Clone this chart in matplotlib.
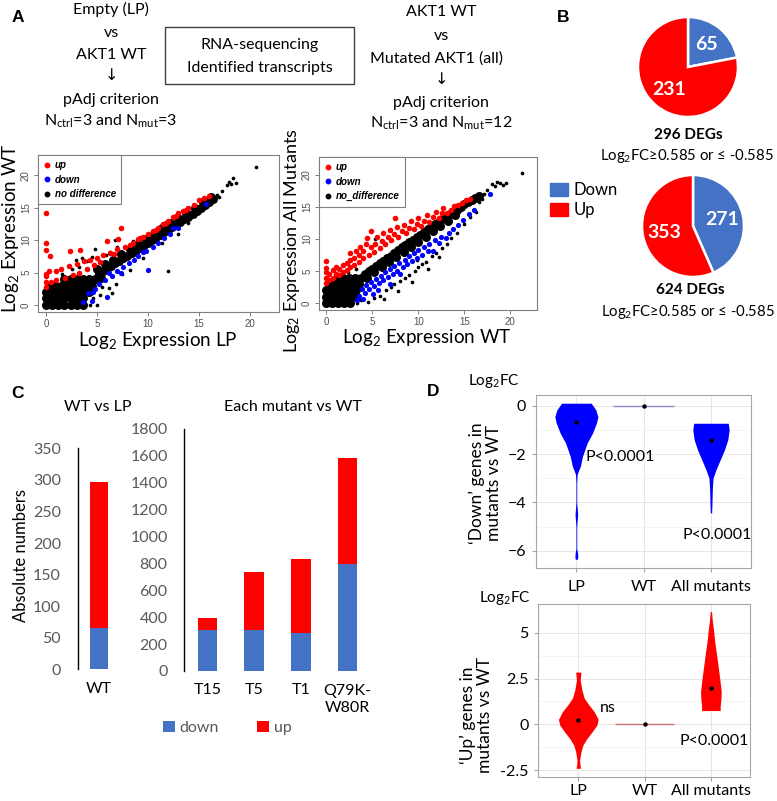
import matplotlib
matplotlib.use('Agg')
import matplotlib.pyplot as plt
from matplotlib.patches import Rectangle, Patch
from matplotlib.lines import Line2D

plt.rcParams['font.family'] = ['Lato', 'DejaVu Sans']
plt.rcParams['mathtext.fontset'] = 'custom'
plt.rcParams['mathtext.rm'] = 'Lato'
plt.rcParams['mathtext.it'] = 'Lato:italic'
plt.rcParams['mathtext.bf'] = 'Lato:bold'

# ---------------- DATA ----------------
# Panel A, scatter 1 (x = Log2 expression LP, y = Log2 expression WT)
nd1_dense_x = [0, 0.6, 1.2, 1.8, 2.4, 3.0, 3.6,
               0, 0.6, 1.2, 1.8, 2.4, 3.0, 3.6,
               0, 0.6, 1.2, 1.8, 2.4, 3.0, 3.6, 4.2,
               0.3, 0.9, 1.5, 2.1, 2.7, 3.3, 3.9, 4.5,
               1.8, 2.4, 3.0, 3.6, 4.2, 4.8,
               5.2, 5.6, 6.0, 6.4, 6.8, 7.2, 7.6, 8.0, 8.4, 8.8, 9.2, 9.6, 10.0, 10.4, 10.8,
               11.2, 11.6, 12.0, 12.4, 12.8, 13.2, 13.6, 14.0, 14.4, 14.8, 15.2, 15.6, 16.0, 16.4,
               5.0, 5.8, 6.6, 7.4, 8.2, 9.0, 9.8, 10.6, 11.4, 12.2, 13.0, 13.8, 14.6, 15.4, 16.2,
               4.6, 5.4]
nd1_dense_y = [0, 0, 0, 0, 0, 0, 0,
               1, 1, 1, 1, 1, 1, 1,
               2, 2, 2, 2, 2, 2, 2, 2,
               3, 3, 3, 3, 3, 3, 3, 3,
               4, 4, 4, 4, 4, 4,
               4.8, 5.3, 5.6, 6.0, 6.4, 6.8, 7.2, 7.6, 8.0, 8.4, 8.8, 9.2, 9.6, 10.0, 10.4,
               10.8, 11.2, 11.6, 12.0, 12.4, 12.8, 13.2, 13.6, 14.0, 14.5, 14.9, 15.4, 15.8, 16.3,
               5.6, 6.3, 7.0, 7.8, 8.6, 9.4, 10.2, 11.0, 11.8, 12.6, 13.4, 14.2, 15.0, 15.8, 16.6,
               3.8, 4.2]
nd1_x = [20.6, 18.7, 18.4, 18.0, 17.8, 18.2, 17.3, 16.8, 17.0,
         12.0, 4.3, 5.0, 3.8, 5.5, 6.5, 6.2, 7.5, 8.2, 5.3, 4.6, 6.9, 9.5, 11.4, 13.0, 14.0,
         2.9, 3.5, 4.0, 4.5, 3.2, 5.9, 6.3, 2.5, 1.6, 7.0, 8.5, 6.8, 4.8]
nd1_y = [21.2, 18.8, 19.5, 19.0, 18.5, 18.6, 17.5, 16.9, 16.6,
         5.2, 0.0, 0.0, 0.1, 2.8, 1.8, 2.6, 4.8, 5.4, 1.5, 1.0, 3.3, 7.2, 9.6, 11.0, 12.7,
         6.9, 7.2, 6.8, 7.4, 5.8, 7.7, 8.2, 5.5, 4.8, 9.0, 9.8, 10.0, 8.6]
up1_x = [0, 0, 0, 0.4, 0, 0, 0, 0, 0.3, 1.0, 1.5, 2.3, 3.3, 2.2, 3.0, 3.7, 4.3, 5.0, 5.6, 6.0,
         6.3, 7.0, 7.4, 7.1, 7.8, 8.5, 9.0, 9.5, 10.0, 10.5, 11.0, 11.5, 12.0, 12.5, 13.0, 13.5,
         14.0, 15.0, 15.5, 16.0, 4.0, 4.7, 5.3, 6.7, 8.2, 9.2, 3.2, 2.6, 1.9, 1.0, 0.5,
         10.8, 11.8, 12.8, 13.8, 14.5]
up1_y = [14.2, 9.5, 8.5, 7.6, 4.8, 4.5, 3.5, 2.8, 5.2, 5.3, 5.6, 8.3, 8.5, 6.0, 6.3, 6.7, 6.9, 7.3, 7.7, 9.9,
         8.0, 8.6, 11.8, 10.2, 9.0, 9.6, 10.1, 10.5, 11.0, 11.4, 11.9, 12.4, 12.9, 13.5, 14.1, 14.5,
         15.0, 16.2, 16.5, 16.8, 5.6, 6.1, 6.6, 7.9, 9.3, 10.3, 4.9, 4.6, 4.2, 3.8, 3.5,
         11.6, 12.6, 13.7, 14.7, 15.4]
down1_x = [10.0, 6.0, 4.1, 4.6, 4.8, 3.6, 4.5, 5.2, 5.8, 6.5, 7.0, 7.4, 7.6, 8.1, 8.6, 9.0, 9.5,
           10.5, 11.0, 11.6, 12.2, 13.0, 15.7, 12.5, 9.8, 6.2]
down1_y = [5.4, 1.3, 1.9, 2.0, 2.4, 0.4, 0.6, 3.3, 3.8, 4.4, 5.2, 4.9, 5.8, 6.5, 7.0, 7.6, 8.1,
           9.0, 9.6, 10.3, 10.9, 11.8, 15.6, 11.8, 8.3, 5.0]

# Panel A, scatter 2 (x = Log2 expression WT, y = Log2 expression all mutants)
nd2_dense_x = [0, 0.65, 1.3, 1.95, 2.6,
               0, 0.65, 1.3, 1.95, 2.6, 3.25,
               0, 0.65, 1.3, 1.95, 2.6, 3.25,
               0.3, 0.95, 1.6, 2.25, 2.9, 3.55,
               1.2, 1.85, 2.5, 3.15, 3.8,
               4.2, 4.6, 5.0, 5.4, 5.8, 6.2, 6.6, 7.0, 7.4, 7.8, 8.2, 8.6, 9.0, 9.4, 9.8, 10.2,
               10.6, 11.0, 11.4, 11.8, 12.2, 12.6, 13.0, 13.4, 13.8, 14.2, 14.6, 15.0, 15.4,
               15.8, 16.2, 16.6,
               4.4, 5.2, 6.0, 6.8, 7.6, 8.4, 9.2, 10.0, 10.8, 11.6, 12.4, 13.2, 14.0]
nd2_dense_y = [0, 0, 0, 0, 0,
               1, 1, 1, 1, 1, 1,
               2, 2, 2, 2, 2, 2,
               3, 3, 3, 3, 3, 3,
               4, 4, 4, 4, 4,
               4.6, 5.0, 5.4, 5.8, 6.2, 6.6, 7.0, 7.4, 7.9, 8.3, 8.7, 9.1, 9.5, 9.9, 10.3, 10.7,
               11.1, 11.5, 11.9, 12.3, 12.7, 13.1, 13.5, 13.9, 14.3, 14.6, 15.0, 15.4, 15.8,
               16.1, 16.4, 16.7,
               4.0, 4.8, 5.6, 6.4, 7.2, 8.0, 8.8, 9.6, 10.4, 11.3, 12.1, 12.9, 13.8]
nd2_x = [21.3, 19.5, 19.2, 18.9, 18.6, 18.3, 18.0, 17.5, 17.1, 16.9, 16.6,
         5.3, 3.2, 1.6, 2.4,
         3.3, 3.8, 4.5, 5.2, 5.8, 6.5, 6.3, 7.0, 7.3, 7.8, 8.0, 8.5, 9.0, 9.3, 9.6, 10.0,
         10.4, 10.8, 11.0, 11.5, 11.9, 12.3, 12.6, 13.1, 13.6, 14.2, 15.0, 15.6, 16.3, 11.2, 9.8]
nd2_y = [20.3, 18.8, 18.5, 18.8, 18.9, 18.3, 18.6, 17.6, 17.0, 16.2, 15.8,
         10.0, 5.3, 4.5, 4.9,
         0.0, 0.5, 0.2, 0.8, 1.2, 2.0, 0.7, 2.5, 3.0, 1.9, 3.4, 4.0, 4.4, 3.3, 5.0, 5.6,
         6.1, 6.5, 5.3, 7.3, 7.9, 7.2, 8.6, 9.3, 10.2, 11.0, 12.4, 13.4, 14.3, 8.2, 6.8]
up2_x = [0, 0, 0, 0, 0, 0.3, 0.3, 0.7, 0.7, 1.0, 1.0, 1.4, 1.4, 1.8, 1.8, 2.2, 2.2, 2.6, 2.6, 2.6,
         3.0, 3.0, 3.2, 3.5, 3.5, 3.7, 4.0, 4.0, 4.3, 4.4, 4.8, 4.6, 4.8, 5.2, 5.3, 5.5, 5.8, 6.0,
         6.2, 6.4, 6.7, 6.9, 7.0, 7.4, 7.5, 7.7, 7.8, 8.2, 8.4, 8.7, 9.0, 9.2, 9.5, 9.8, 10.0,
         10.3, 10.6, 10.9, 11.2, 11.6, 11.9, 12.2, 12.6, 12.7, 13.1, 13.5, 13.9, 14.3, 14.7,
         15.2, 15.6]
up2_y = [3.2, 4.0, 4.8, 5.5, 6.6, 3.6, 4.5, 4.0, 5.2, 4.6, 5.6, 4.4, 5.4, 4.8, 5.9, 5.2, 6.3, 5.6, 6.8, 7.8,
         6.0, 7.1, 8.2, 6.5, 7.6, 8.8, 7.0, 8.2, 9.3, 10.1, 11.2, 7.6, 8.7, 8.0, 9.3, 10.3, 8.6, 9.7,
         10.9, 9.2, 10.3, 11.4, 9.8, 10.8, 13.3, 11.9, 10.4, 11.2, 12.2, 11.0, 11.7, 12.8, 11.6, 12.4, 13.3,
         12.1, 12.9, 13.7, 12.7, 13.5, 14.2, 13.3, 14.0, 14.8, 14.0, 14.6, 15.1, 15.3, 15.6,
         16.1, 16.3]
down2_x = [3.3, 3.6, 3.9, 4.2, 4.3, 4.6, 4.8, 5.1, 5.2, 5.4, 5.7, 5.9, 6.2, 6.4, 6.7, 6.9, 7.2, 7.4,
           7.7, 7.9, 8.0, 8.3, 8.5, 8.8, 9.0, 9.3, 9.5, 9.8, 10.0, 10.4, 10.6, 11.0, 11.2, 11.6,
           11.8, 12.2, 12.5, 13.0, 13.3, 13.8, 14.3, 14.9, 15.5, 16.0, 17.8, 4.0, 5.6, 6.9]
down2_y = [0.5, 1.2, 2.2, 1.6, 2.9, 2.2, 3.3, 1.5, 2.7, 3.8, 3.2, 4.3, 3.6, 4.8, 4.1, 5.3, 4.5, 5.8,
           5.0, 6.3, 4.6, 5.6, 6.8, 6.1, 7.3, 6.6, 7.8, 7.1, 8.3, 7.6, 8.8, 8.2, 9.3, 8.2,
           9.8, 9.4, 10.4, 10.2, 11.0, 11.5, 12.2, 13.0, 13.9, 14.6, 17.1, 0.7, 2.1, 3.0]

# Panel B pies
pie_labels = ['Down', 'Up']
pie1_counts = [65, 231]
pie2_counts = [271, 624 - 271]
pie1_title = '296 DEGs'
pie2_title = '624 DEGs'

# Panel C bars
wt_cat = ['WT']
wt_down = [65]
wt_up = [231]
mut_cats = ['T15', 'T5', 'T1', 'Q79K-\nW80R']
mut_down = [305, 302, 285, 794]
mut_up = [91, 432, 548, 790]
c_left_ticks = [0, 50, 100, 150, 200, 250, 300, 350]
c_right_ticks = [0, 200, 400, 600, 800, 1000, 1200, 1400, 1600, 1800]

# Panel D violins (profile: y positions and half-widths)
d_cats = ['LP', 'WT', 'All mutants']
down_lp_y = [0.11, -0.17, -0.45, -0.7, -1.13, -1.54, -2.1, -2.5, -2.7, -2.85, -3.2, -4.0, -4.3,
             -4.5, -4.7, -5.0, -5.9, -6.1, -6.25, -6.35]
down_lp_w = [0.22, 0.29, 0.32, 0.30, 0.24, 0.16, 0.09, 0.06, 0.03, 0.012, 0.006, 0.006, 0.014,
             0.02, 0.014, 0.006, 0.006, 0.018, 0.022, 0.015]
down_all_y = [-0.72, -0.99, -1.4, -1.82, -2.23, -2.64, -2.99, -3.47, -4.02, -4.43]
down_all_w = [0.257, 0.27, 0.25, 0.20, 0.137, 0.075, 0.03, 0.02, 0.015, 0.01]
down_means = [-0.67, 0.0, -1.4]
up_lp_y = [-2.4, -2.22, -1.95, -1.49, -1.13, -0.77, -0.4, -0.04, 0.27, 0.69, 1.06, 1.42, 1.88,
           2.42, 2.85]
up_lp_w = [0.035, 0.025, 0.02, 0.04, 0.07, 0.13, 0.21, 0.28, 0.30, 0.24, 0.16, 0.09, 0.053,
           0.028, 0.04]
up_all_y = [0.75, 0.97, 1.33, 1.78, 2.42, 3.15, 3.88, 4.6, 5.15, 5.7, 6.16]
up_all_w = [0.14, 0.14, 0.15, 0.156, 0.136, 0.11, 0.083, 0.055, 0.04, 0.02, 0.01]
up_means = [0.24, 0.0, 1.97]
wt_value = 0.0
wt_halfwidth = 0.45

BLUE = '#4472C4'
RED = '#FF0000'

# ---------------- FIGURE ----------------
W, H = 777, 801
fig = plt.figure(figsize=(W / 100, H / 100), dpi=100)


def ax_px(l, t, r, b):
    return fig.add_axes([l / W, 1 - b / H, (r - l) / W, (b - t) / H])


def ftext(x, y, s, **kw):
    kw.setdefault('ha', 'center')
    kw.setdefault('va', 'center')
    return fig.text(x / W, 1 - y / H, s, **kw)


# panel letters
for (x, y, s) in [(18, 18, 'A'), (563, 18, 'B'), (18, 393, 'C'), (433, 392, 'D')]:
    ftext(x, y, s, fontsize=12.5, fontweight='bold', family='Liberation Sans')

# Panel A text
TS = 11.5
ftext(111, 9, 'Empty (LP)', fontsize=TS)
ftext(111, 33, 'vs', fontsize=TS)
ftext(111, 55, 'AKT1 WT', fontsize=TS)
ftext(111, 76, '↓', fontsize=TS, family=['DejaVu Sans'])
ftext(111, 100, 'pAdj criterion', fontsize=TS)
ftext(111, 121, r'N$_{\mathrm{ctrl}}$=3 and N$_{\mathrm{mut}}$=3', fontsize=TS)

ftext(441, 12, 'AKT1 WT', fontsize=TS)
ftext(441, 36, 'vs', fontsize=TS)
ftext(437, 59, 'Mutated AKT1 (all)', fontsize=TS)
ftext(441, 80, '↓', fontsize=TS, family=['DejaVu Sans'])
ftext(441, 103, 'pAdj criterion', fontsize=TS)
ftext(441, 123, r'N$_{\mathrm{ctrl}}$=3 and N$_{\mathrm{mut}}$=12', fontsize=TS)

fig.patches.append(Rectangle((165 / W, 1 - 84 / H), (354 - 165) / W, (84 - 27) / H,
                             transform=fig.transFigure, fill=False, edgecolor='#404040', lw=1.0))
ftext(260, 45, 'RNA-sequencing', fontsize=TS)
ftext(260, 68, 'Identified transcripts', fontsize=TS)


def scatter_panel(ax, dx, dy, sx, sy, ux, uy, wx, wy, nolab, ylim):
    ax.scatter(dx, dy, s=42, c='black', linewidths=0, zorder=2)
    ax.scatter(sx, sy, s=7, c='black', linewidths=0, zorder=2)
    ax.scatter(ux, uy, s=16, c='#ff0000', linewidths=0, zorder=3)
    ax.scatter(wx, wy, s=14, c='#0000ff', linewidths=0, zorder=3)
    ax.set_xlim(-0.8, 22.9)
    ax.set_ylim(*ylim)
    ax.set_xticks([0, 5, 10, 15, 20])
    ax.set_yticks([0, 5, 10, 15, 20])
    for sp in ax.spines.values():
        sp.set_color('#808080')
        sp.set_linewidth(0.8)
    ax.tick_params(length=3, width=0.7, color='#808080', labelsize=7, labelcolor='#505050', pad=2)
    for lab in ax.get_xticklabels() + ax.get_yticklabels():
        lab.set_family('Liberation Sans')
    for lab in ax.get_yticklabels():
        lab.set_rotation(90)
        lab.set_va('center')
    handles = [Line2D([], [], ls='', marker='o', ms=3.2, mfc=c, mec=c) for c in ['#ff0000', '#0000ff', 'black']]
    leg = ax.legend(handles, ['up', 'down', nolab], loc='upper left', borderaxespad=0,
                    fancybox=False, edgecolor='#808080', framealpha=1,
                    prop={'family': 'Liberation Sans', 'style': 'italic', 'weight': 'bold', 'size': 7},
                    handlelength=0.7, handletextpad=0.5, labelspacing=0.45, borderpad=0.55)
    leg.get_frame().set_linewidth(0.8)
    leg.set_zorder(5)


ax1 = ax_px(38, 155, 279, 312)
scatter_panel(ax1, nd1_dense_x, nd1_dense_y, nd1_x, nd1_y, up1_x, up1_y, down1_x, down1_y,
              'no difference', (-1.08, 23.1))
ftext(158, 341, r'Log$_2$ Expression LP', fontsize=13.5)
ftext(11, 228, r'Log$_2$ Expression WT', fontsize=13.5, rotation=90)

ax2 = ax_px(319, 157, 537, 310)
scatter_panel(ax2, nd2_dense_x, nd2_dense_y, nd2_x, nd2_y, up2_x, up2_y, down2_x, down2_y,
              'no_difference', (-1.05, 22.8))
ftext(427, 338, r'Log$_2$ Expression WT', fontsize=13.5)
ftext(292, 241, r'Log$_2$ Expression All Mutants', fontsize=13, rotation=90)


# Panel B pies
def pie_panel(ax, counts):
    total = sum(counts)
    ax.pie(counts, colors=[BLUE, RED], startangle=90, counterclock=False,
           wedgeprops=dict(edgecolor='white', linewidth=1.8),
           autopct=lambda p: f'{p * total / 100:.0f}', pctdistance=0.58,
           textprops=dict(color='white', fontsize=14, fontweight='bold'))
    ax.set_xlim(-1.02, 1.02)
    ax.set_ylim(-1.02, 1.02)
    ax.set_aspect('equal')
    ax.axis('off')


pie_panel(ax_px(637, 16, 739, 118), pie1_counts)
pie_panel(ax_px(641, 174, 745, 278), pie2_counts)
ftext(688, 135, pie1_title, fontsize=11, fontweight='bold')
ftext(687, 156, r'Log$_2$FC≥0.585 or ≤ -0.585', fontsize=10.7)
ftext(690, 290, pie2_title, fontsize=11, fontweight='bold')
ftext(688, 312, r'Log$_2$FC≥0.585 or ≤ -0.585', fontsize=10.7)
fig.legend([Patch(color=BLUE), Patch(color=RED)], pie_labels, loc='upper left',
           bbox_to_anchor=(550 / W, 1 - 182 / H), frameon=False, fontsize=12,
           handlelength=1.1, handleheight=0.85, handletextpad=0.3, labelspacing=0.25,
           borderaxespad=0, borderpad=0)

# Panel C bars
GRAY = '#595959'


def bar_style(ax, ticks):
    for k in ['top', 'right', 'bottom']:
        ax.spines[k].set_visible(False)
    ax.spines['left'].set_color('black')
    ax.spines['left'].set_linewidth(1.0)
    ax.set_yticks(ticks)
    ax.tick_params(axis='y', length=0, labelsize=11.5, labelcolor=GRAY, pad=12)
    ax.tick_params(axis='x', length=0, labelsize=11.5, labelcolor='black', pad=9)
    ax.set_xlim(-0.5, len(ax.get_xticks()) - 0.5)


axc1 = ax_px(77.7, 448.3, 120.3, 669.3)
axc1.bar(wt_cat, wt_down, width=0.42, color=BLUE)
axc1.bar(wt_cat, wt_up, bottom=wt_down, width=0.42, color=RED)
axc1.set_ylim(0, 350)
bar_style(axc1, c_left_ticks)

axc2 = ax_px(184.3, 429, 370.6, 671)
axc2.bar(mut_cats, mut_down, width=0.42, color=BLUE, label='down')
axc2.bar(mut_cats, mut_up, bottom=mut_down, width=0.42, color=RED, label='up')
axc2.set_ylim(0, 1800)
bar_style(axc2, c_right_ticks)
for lab in axc2.get_xticklabels():
    lab.set_linespacing(1.3)

ftext(98, 407, 'WT vs LP', fontsize=11.5)
ftext(293, 407, 'Each mutant vs WT', fontsize=11.5)
ftext(21, 555, 'Absolute numbers', fontsize=12, rotation=90)
fig.legend(*axc2.get_legend_handles_labels(), loc='center left', ncol=2,
           bbox_to_anchor=(163 / W, 1 - 728 / H), frameon=False, fontsize=11.5,
           labelcolor=GRAY, handlelength=0.75, handleheight=0.75, handletextpad=0.3,
           columnspacing=2.4, borderaxespad=0, borderpad=0)


# Panel D violins
def violin_style(ax, yticks, minor, ylim, xpad):
    ax.set_xlim(0.396, 3.59)
    ax.set_ylim(*ylim)
    ax.set_xticks([1, 2, 3])
    ax.set_xticklabels(d_cats)
    ax.set_yticks(yticks)
    ax.set_yticks(minor, minor=True)
    ax.grid(True, which='major', color='#e6e6e6', lw=0.7)
    ax.grid(True, which='minor', axis='y', color='#f2f2f2', lw=0.5)
    ax.set_axisbelow(True)
    for sp in ax.spines.values():
        sp.set_color('#a6a6a6')
        sp.set_linewidth(0.8)
    ax.tick_params(which='major', length=3, color='#a6a6a6', labelsize=11.5, pad=4)
    ax.tick_params(axis='x', pad=xpad)
    ax.tick_params(which='minor', length=0)


def violin(ax, c, ys, ws, color):
    ax.fill_betweenx(ys, [c - w for w in ws], [c + w for w in ws], color=color, lw=0, zorder=2)


axd1 = ax_px(535.7, 395, 750.7, 567.7)
violin(axd1, 1, down_lp_y, down_lp_w, '#0000ff')
violin(axd1, 3, down_all_y, down_all_w, '#0000ff')
axd1.hlines(wt_value, 2 - wt_halfwidth, 2 + wt_halfwidth, color='#8a8ac8', lw=1.0, zorder=2)
axd1.plot([1, 2, 3], down_means, ls='', marker='o', ms=2.2, color='black', zorder=3)
violin_style(axd1, [0, -2, -4, -6], [-1, -3, -5], (-6.7, 0.45), 6)
axd1.text(1.13, -2.1, 'P<0.0001', fontsize=11.5, va='center', ha='left')
axd1.text(2.57, -5.33, 'P<0.0001', fontsize=11.5, va='center', ha='left')
ftext(494, 381, r'Log$_2$FC', fontsize=11)
ftext(485, 483, '‘Down’ genes in\nmutants vs WT', fontsize=12.5, rotation=90, linespacing=1.1)

axd2 = ax_px(538.3, 604, 750, 776.7)
violin(axd2, 1, up_lp_y, up_lp_w, '#ff0000')
violin(axd2, 3, up_all_y, up_all_w, '#ff0000')
axd2.hlines(wt_value, 2 - wt_halfwidth, 2 + wt_halfwidth, color='#c87070', lw=1.0, zorder=2)
axd2.plot([1, 2, 3], up_means, ls='', marker='o', ms=2.2, color='black', zorder=3)
violin_style(axd2, [-2.5, 0, 2.5, 5], [-1.25, 1.25, 3.75], (-2.86, 6.57), 2.5)
axd2.set_yticklabels(['-2.5', '0', '2.5', '5'])
axd2.text(1.33, 0.87, 'ns', fontsize=11.5, va='center', ha='left')
axd2.text(2.53, -0.9, 'P<0.0001', fontsize=11.5, va='center', ha='left')
ftext(505, 598, r'Log$_2$FC', fontsize=11)
ftext(476, 715, '‘Up’ genes in\nmutants vs WT', fontsize=12.5, rotation=90, linespacing=1.1)

fig.savefig('out.png', dpi=100)
